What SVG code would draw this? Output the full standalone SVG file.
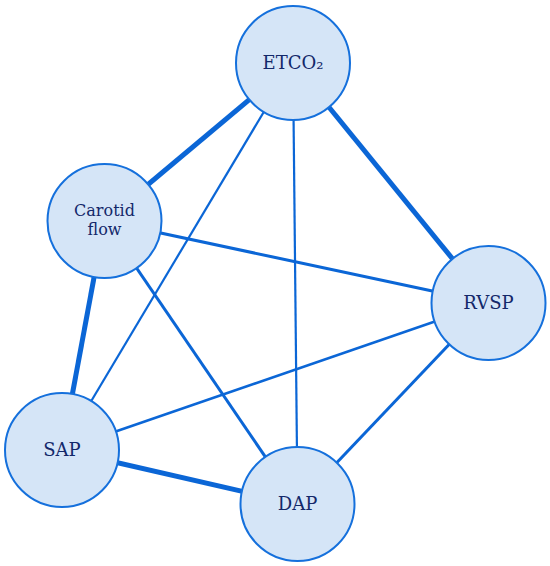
<svg xmlns="http://www.w3.org/2000/svg" width="550" height="566" viewBox="0 0 550 566">
<style>
.e{stroke:#0b66d6;fill:none;stroke-linecap:butt}
.n{fill:#d5e5f7;stroke:#1570dc;stroke-width:2}
.t{font-family:"DejaVu Serif",serif;font-size:18px;fill:#13286a;text-anchor:middle}
.s{font-size:16px}
</style>
<rect width="550" height="566" fill="#ffffff"/>
<g id="edges">
<line class="e" x1="293" y1="63" x2="104.5" y2="221" stroke-width="5"/>
<line class="e" x1="293" y1="63" x2="488.5" y2="303" stroke-width="5"/>
<line class="e" x1="293" y1="63" x2="62" y2="450" stroke-width="2.2"/>
<line class="e" x1="293" y1="63" x2="297.5" y2="504" stroke-width="2.2"/>
<line class="e" x1="104.5" y1="221" x2="488.5" y2="303" stroke-width="3"/>
<line class="e" x1="104.5" y1="221" x2="62" y2="450" stroke-width="5"/>
<line class="e" x1="104.5" y1="221" x2="297.5" y2="504" stroke-width="3"/>
<line class="e" x1="488.5" y1="303" x2="62" y2="450" stroke-width="2.6"/>
<line class="e" x1="488.5" y1="303" x2="297.5" y2="504" stroke-width="3"/>
<line class="e" x1="62" y1="450" x2="297.5" y2="504" stroke-width="5"/>
</g>
<g id="ETCO2"><circle class="n" cx="293" cy="63" r="57"/><text class="t" x="293" y="69">ETCO₂</text></g>
<g id="Carotid"><circle class="n" cx="104.5" cy="221" r="57"/><text class="t s" x="104.5" y="216">Carotid</text><text class="t s" x="104.5" y="235">flow</text></g>
<g id="RVSP"><circle class="n" cx="488.5" cy="303" r="57"/><text class="t" x="488.5" y="309">RVSP</text></g>
<g id="SAP"><circle class="n" cx="62" cy="450" r="57"/><text class="t" x="62" y="456">SAP</text></g>
<g id="DAP"><circle class="n" cx="297.5" cy="504" r="57"/><text class="t" x="297.5" y="510">DAP</text></g>
</svg>
